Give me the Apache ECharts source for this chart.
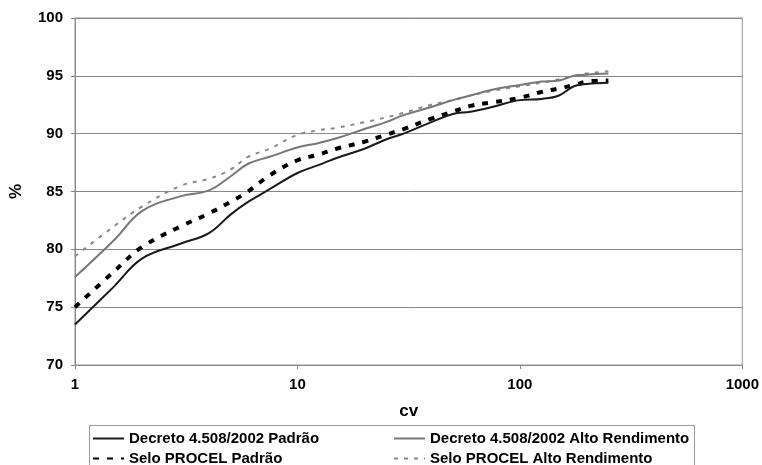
<!DOCTYPE html>
<html>
<head>
<meta charset="utf-8">
<script src="https://cdn.jsdelivr.net/npm/echarts@6/dist/echarts.min.js"></script>
<style>
  html, body { margin: 0; padding: 0; background: #fff; }
  #chart { width: 762px; height: 465px; }
</style>
</head>
<body>
<div id="chart"></div>
<script>
// potência do motor (cv)
const cv = [1, 1.5, 2, 3, 4, 5, 6, 7.5, 10, 12.5, 15, 20, 25, 30, 40, 50, 60, 75, 100, 125, 150, 175, 200, 250];

// rendimento (%)
const decretoPadrao = [73.5, 76.8, 79.2, 80.5, 81.4, 83.0, 84.1, 85.2, 86.6, 87.3, 87.9, 88.7, 89.5, 90.0, 91.0, 91.7, 91.9, 92.3, 92.9, 93.0, 93.3, 94.1, 94.3, 94.4];
const decretoAlto = [77.6, 80.8, 83.3, 84.6, 85.1, 86.3, 87.4, 88.0, 88.8, 89.2, 89.6, 90.4, 91.0, 91.6, 92.3, 92.9, 93.3, 93.8, 94.2, 94.5, 94.6, 95.0, 95.1, 95.2];
const seloPadrao = [75.0, 78.1, 80.2, 82.0, 83.1, 84.1, 85.0, 86.4, 87.7, 88.2, 88.7, 89.3, 89.9, 90.4, 91.3, 91.9, 92.4, 92.7, 93.1, 93.6, 93.9, 94.2, 94.5, 94.6];
const seloAlto = [79.4, 82.0, 83.7, 85.5, 86.1, 86.9, 88.0, 88.7, 89.9, 90.3, 90.5, 91.0, 91.4, 91.8, 92.5, 92.9, 93.3, 93.7, 94.1, 94.4, 94.7, 95.0, 95.2, 95.4];

const yTicks = [70, 75, 80, 85, 90, 95, 100];
const xTicks = [1, 10, 100, 1000];

const names = [
    "Decreto 4.508/2002 Padrão",
    "Decreto 4.508/2002 Alto Rendimento",
    "Selo PROCEL Padrão",
    "Selo PROCEL Alto Rendimento"
];

const pairs = arr => cv.map((x, i) => [x, arr[i]]);
const font = "'Liberation Sans', Arial, sans-serif";

const myChart = echarts.init(document.getElementById("chart"), null, { renderer: "canvas" });

const legendBase = {
    orient: "vertical",
    top: 431,
    height: 60,
    itemWidth: 31,
    itemHeight: 14,
    itemGap: 5,
    padding: 0,
    selectedMode: false,
    itemStyle: { opacity: 0 },
    textStyle: {
        fontFamily: font,
        fontSize: 15,
        fontWeight: "bold",
        color: "#000",
        lineHeight: 14
    }
};

const options = {
    animation: false,
    backgroundColor: "#fff",
    grid: {
        left: 71,
        right: 19,
        top: 18,
        bottom: 100,
        show: true,
        borderColor: "#999",
        borderWidth: 1
    },
    graphic: [
        {
            type: "rect",
            left: 87,
            top: 423,
            shape: { width: 605, height: 60 },
            style: { fill: "none", stroke: "#999", lineWidth: 1 }
        }
    ],
    legend: [
        Object.assign({}, legendBase, { left: 92, data: [names[0], names[2]] }),
        Object.assign({}, legendBase, { left: 393, data: [names[1], names[3]] })
    ],
    xAxis: {
        type: "log",
        logBase: 10,
        min: xTicks[0],
        max: xTicks[xTicks.length - 1],
        name: "cv",
        nameLocation: "middle",
        nameGap: 38,
        nameTextStyle: { fontFamily: font, fontSize: 17, fontWeight: "bold", color: "#000" },
        axisLine: { lineStyle: { color: "#888", width: 1 } },
        axisTick: { show: true, length: 4, lineStyle: { color: "#888" } },
        minorTick: { show: false },
        splitLine: { show: false },
        axisLabel: {
            margin: 12,
            fontFamily: font,
            fontSize: 15,
            fontWeight: "bold",
            color: "#000",
            showMinLabel: true,
            showMaxLabel: true,
            formatter: v => String(Math.round(v))
        }
    },
    yAxis: {
        type: "value",
        min: yTicks[0],
        max: yTicks[yTicks.length - 1],
        interval: 5,
        name: "%",
        nameLocation: "middle",
        nameGap: 50,
        nameTextStyle: { fontFamily: font, fontSize: 17, fontWeight: "bold", color: "#000" },
        axisLine: { show: true, lineStyle: { color: "#888", width: 1 } },
        axisTick: { show: true, length: 4, lineStyle: { color: "#888" } },
        splitLine: { show: true, lineStyle: { color: "#888", width: 1 } },
        axisLabel: {
            margin: 12,
            fontFamily: font,
            fontSize: 15,
            fontWeight: "bold",
            color: "#000"
        }
    },
    series: [
        {
            name: names[0],
            type: "line",
            data: pairs(decretoPadrao),
            smooth: 0.4,
            symbol: "none",
            z: 4,
            lineStyle: { color: "#1a1a1a", width: 2, type: "solid" },
            itemStyle: { color: "#1a1a1a" }
        },
        {
            name: names[1],
            type: "line",
            data: pairs(decretoAlto),
            smooth: 0.4,
            symbol: "none",
            z: 2,
            lineStyle: { color: "#777", width: 2, type: "solid" },
            itemStyle: { color: "#777" }
        },
        {
            name: names[2],
            type: "line",
            data: pairs(seloPadrao),
            smooth: 0.4,
            symbol: "none",
            z: 3,
            lineStyle: { color: "#000", width: 4, type: [6, 8] },
            itemStyle: { color: "#000" }
        },
        {
            name: names[3],
            type: "line",
            data: pairs(seloAlto),
            smooth: 0.4,
            symbol: "none",
            z: 1,
            lineStyle: { color: "#8a8a8a", width: 2, type: [4, 6] },
            itemStyle: { color: "#8a8a8a" }
        }
    ]
};

myChart.setOption(options);
</script>
</body>
</html>
